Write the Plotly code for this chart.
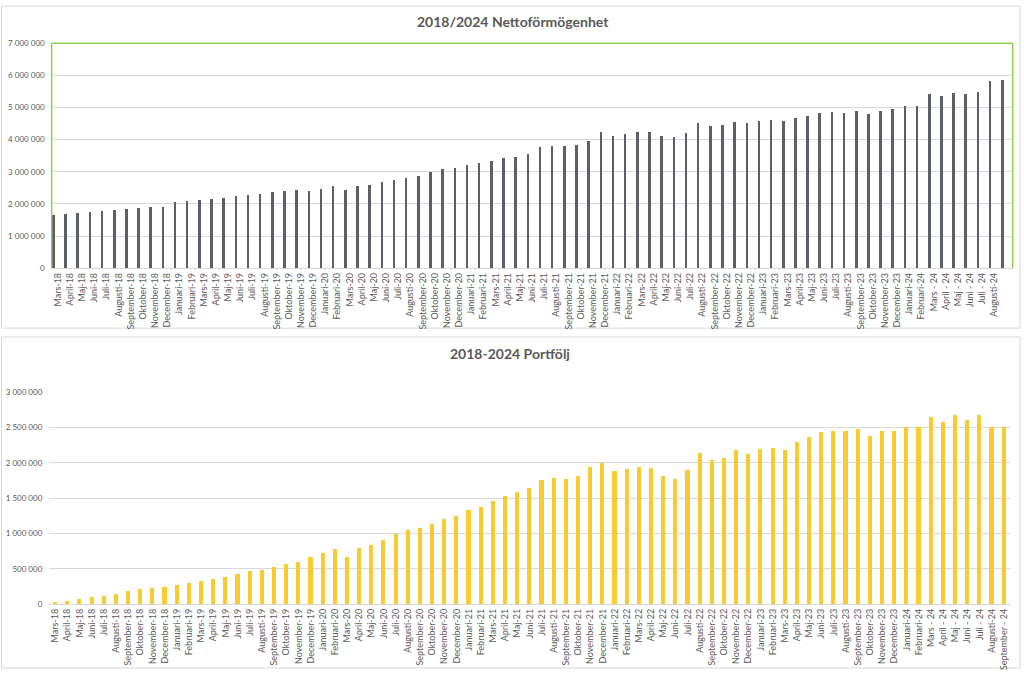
import plotly.graph_objects as go

# ---------------- data ----------------
months = [
    "Mars-18", "April-18", "Maj-18", "Juni-18", "Juli-18", "Augusti-18", "September-18",
    "Oktober-18", "November-18", "December-18",
    "Januari-19", "Februari-19", "Mars-19", "April-19", "Maj-19", "Juni-19", "Juli-19",
    "Augusti-19", "September-19", "Oktober-19", "November-19", "December-19",
    "Januari-20", "Februari-20", "Mars-20", "April-20", "Maj-20", "Juni-20", "Juli-20",
    "Augusti-20", "September-20", "Oktober-20", "November-20", "December-20",
    "Januari-21", "Februari-21", "Mars-21", "April-21", "Maj-21", "Juni-21", "Juli-21",
    "Augusti-21", "September-21", "Oktober-21", "November-21", "December-21",
    "Januari-22", "Februari-22", "Mars-22", "April-22", "Maj-22", "Juni-22", "Juli-22",
    "Augusti-22", "September-22", "Oktober-22", "November-22", "December-22",
    "Januari-23", "Februari-23", "Mars-23", "April-23", "Maj-23", "Juni-23", "Juli-23",
    "Augusti-23", "September-23", "Oktober-23", "November-23", "December-23",
    "Januari-24", "Februari-24", "Mars - 24", "April - 24", "Maj - 24", "Juni - 24",
    "Juli - 24", "Augusti-24", "September - 24",
]

# top chart: last bar has no category label
netto_labels = months[:-1] + [" "]

netto = [
    1653000, 1694000, 1724000, 1735000, 1765000, 1806000, 1847000, 1878000, 1908000, 1918000,
    2061000, 2102000, 2133000, 2153000, 2194000, 2245000, 2286000, 2316000, 2357000, 2398000,
    2429000, 2398000,
    2459000, 2541000, 2418000, 2551000, 2602000, 2673000, 2755000, 2806000, 2857000, 2990000,
    3071000, 3112000,
    3204000, 3255000, 3347000, 3439000, 3469000, 3541000, 3755000, 3796000, 3786000, 3837000,
    3969000, 4235000,
    4122000, 4173000, 4224000, 4224000, 4122000, 4082000, 4204000, 4510000, 4408000, 4449000,
    4541000, 4510000,
    4582000, 4592000, 4561000, 4663000, 4745000, 4827000, 4847000, 4837000, 4878000, 4796000,
    4878000, 4959000,
    5030000, 5055000, 5410000, 5350000, 5460000, 5420000, 5480000, 5815000, 5835000,
]

portfolj = [
    25000, 50000, 75000, 95000, 115000, 145000, 185000, 210000, 225000, 245000,
    275000, 305000, 330000, 360000, 380000, 430000, 470000, 485000, 530000, 565000,
    595000, 660000,
    720000, 785000, 670000, 800000, 840000, 910000, 995000, 1045000, 1075000, 1130000,
    1205000, 1245000,
    1330000, 1370000, 1460000, 1535000, 1580000, 1640000, 1755000, 1790000, 1770000, 1810000,
    1945000, 2000000,
    1885000, 1905000, 1940000, 1920000, 1815000, 1770000, 1890000, 2140000, 2045000, 2065000,
    2180000, 2125000,
    2190000, 2210000, 2180000, 2290000, 2360000, 2430000, 2455000, 2445000, 2470000, 2375000,
    2455000, 2445000,
    2500000, 2500000, 2650000, 2575000, 2670000, 2610000, 2670000, 2500000, 2500000,
]

title_top = "2018/2024 Nettoförmögenhet"
title_bottom = "2018-2024 Portfölj"
yticks_top = [0, 1000000, 2000000, 3000000, 4000000, 5000000, 6000000, 7000000]
yticks_bottom = [0, 500000, 1000000, 1500000, 2000000, 2500000, 3000000]

# ---------------- layout helpers ----------------
W, H = 1024, 675
def px(x):
    return x / W
def py(y):
    return 1 - y / H

FONT = "Lato, 'Open Sans', sans-serif"
TXT = "#595959"
GRID = "#D9D9D9"
GREEN = "#92D050"

top_x = [px(51.7), px(1012.7)]
top_y = [py(267.3), py(38.7)]
bot_x = [px(49.3), px(1010.0)]
bot_y = [py(608.3), py(393.0)]

fig = go.Figure()

fig.add_trace(go.Bar(
    x=netto_labels, y=netto, xaxis="x", yaxis="y",
    marker=dict(color="#5c5f65", line=dict(width=0)),
    width=0.21, offset=-0.49, hoverinfo="x+y",
))
fig.add_trace(go.Bar(
    x=months, y=portfolj, xaxis="x2", yaxis="y2",
    marker=dict(color="#F8CC2E", line=dict(width=0)),
    width=0.34, hoverinfo="x+y",
))

xcommon = dict(
    type="category", tickmode="array", tickangle=-90,
    tickfont=dict(family=FONT, size=9, color=TXT),
    showgrid=False, showline=True, linecolor=GRID, linewidth=1,
    ticks="", zeroline=False, fixedrange=True,
)
ycommon = dict(
    tickformat=",d", tickfont=dict(family=FONT, size=8, color=TXT),
    showgrid=True, gridcolor=GRID, gridwidth=1, zeroline=False,
    showline=False, ticks="", ticklabelstandoff=6, fixedrange=True,
)

fig.update_layout(
    width=W, height=H,
    margin=dict(l=0, r=0, t=0, b=0),
    paper_bgcolor="white", plot_bgcolor="white",
    separators=", ",
    showlegend=False,
    bargap=0,
    xaxis=dict(domain=top_x, anchor="y", tickvals=netto_labels, ticktext=netto_labels,
               range=[-0.5, len(netto_labels) - 0.5], **xcommon),
    yaxis=dict(domain=top_y, anchor="x", range=[0, 7000000], tickvals=yticks_top, **ycommon),
    xaxis2=dict(domain=bot_x, anchor="y2", tickvals=months, ticktext=months,
                range=[-0.5, len(months) - 0.5], **xcommon),
    yaxis2=dict(domain=bot_y, anchor="x2", range=[0, 3000000], tickvals=yticks_bottom, **ycommon),
)

shapes = [
    # outer chart boxes
    dict(type="rect", xref="paper", yref="paper", x0=px(1.5), x1=px(1020), y0=py(328), y1=py(1),
         line=dict(color=GRID, width=1), fillcolor="rgba(0,0,0,0)", layer="below"),
    dict(type="rect", xref="paper", yref="paper", x0=px(1.5), x1=px(1020), y0=py(673), y1=py(337),
         line=dict(color=GRID, width=1), fillcolor="rgba(0,0,0,0)", layer="below"),
    # green plot-area border (top chart): left, top, right
    dict(type="line", xref="paper", yref="paper", x0=top_x[0], x1=top_x[0], y0=top_y[0], y1=top_y[1],
         line=dict(color=GREEN, width=1.5)),
    dict(type="line", xref="paper", yref="paper", x0=top_x[0], x1=top_x[1], y0=top_y[1], y1=top_y[1],
         line=dict(color=GREEN, width=1.5)),
    dict(type="line", xref="paper", yref="paper", x0=top_x[1], x1=top_x[1], y0=top_y[0], y1=top_y[1],
         line=dict(color=GREEN, width=1.5)),
]
fig.update_layout(shapes=shapes)

fig.add_annotation(text=f"<b>{title_top}</b>", xref="paper", yref="paper",
                   x=px(513), y=py(17), showarrow=False,
                   font=dict(family=FONT, size=14, color=TXT), xanchor="center", yanchor="middle")
fig.add_annotation(text=f"<b>{title_bottom}</b>", xref="paper", yref="paper",
                   x=px(510), y=py(354), showarrow=False,
                   font=dict(family=FONT, size=14, color=TXT), xanchor="center", yanchor="middle")

fig.write_html(
    "out.html",
    config={"displayModeBar": False},
    post_script="document.body.style.margin='0';document.body.style.overflow='hidden';",
)
